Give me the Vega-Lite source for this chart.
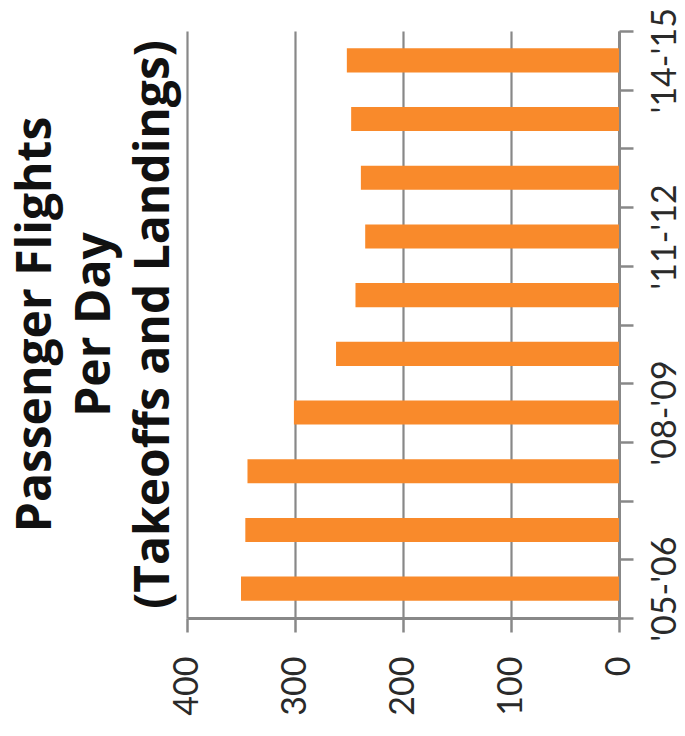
{
  "$schema": "https://vega.github.io/schema/vega-lite/v6.json",
  "width": 432,
  "height": 587,
  "autosize": {"type": "none"},
  "padding": {"left": 187, "top": 31, "right": 66, "bottom": 118},
  "background": "white",
  "view": {"stroke": null},
  "title": {
    "text": ["Passenger Flights", "Per Day", "(Takeoffs and Landings)"],
    "orient": "left",
    "anchor": "middle",
    "frame": "group",
    "font": "Open Sans",
    "fontWeight": "bold",
    "fontSize": 48,
    "lineHeight": 59,
    "color": "#111111",
    "offset": -9
  },
  "data": {
    "values": [
      {"year": "'05-'06", "flights": 350},
      {"year": "'06-'07", "flights": 346},
      {"year": "'07-'08", "flights": 344},
      {"year": "'08-'09", "flights": 301},
      {"year": "'09-'10", "flights": 262},
      {"year": "'10-'11", "flights": 244},
      {"year": "'11-'12", "flights": 235},
      {"year": "'12-'13", "flights": 239},
      {"year": "'13-'14", "flights": 248},
      {"year": "'14-'15", "flights": 252}
    ]
  },
  "mark": {"type": "bar", "color": "#F98A2B", "height": {"band": 0.41}},
  "encoding": {
    "y": {
      "field": "year",
      "type": "nominal",
      "sort": "descending",
      "scale": {"paddingInner": 0, "paddingOuter": 0},
      "axis": {
        "orient": "right",
        "title": null,
        "tickBand": "extent",
        "tickSize": 14,
        "tickWidth": 2.5,
        "tickColor": "#888888",
        "domainColor": "#888888",
        "domainWidth": 3,
        "labelAngle": -90,
        "labelAlign": "center",
        "labelBaseline": "top",
        "labelPadding": 15,
        "labelFont": "Lato",
        "labelFontSize": 34,
        "labelColor": "#2a2a2a",
        "labelExpr": "(substring(datum.label,1,3) == '05' || substring(datum.label,1,3) == '08' || substring(datum.label,1,3) == '11' || substring(datum.label,1,3) == '14') ? datum.label : ''"
      }
    },
    "x": {
      "field": "flights",
      "type": "quantitative",
      "scale": {"domain": [0, 400], "reverse": true, "nice": false},
      "axis": {
        "orient": "bottom",
        "title": null,
        "values": [0, 100, 200, 300, 400],
        "grid": true,
        "gridColor": "#888888",
        "gridWidth": 2.2,
        "tickSize": 14,
        "tickWidth": 2.5,
        "tickColor": "#888888",
        "domainColor": "#888888",
        "domainWidth": 3,
        "labelAngle": -90,
        "labelAlign": "right",
        "labelBaseline": "middle",
        "labelPadding": 24,
        "labelFont": "Lato",
        "labelFontSize": 34,
        "labelColor": "#2a2a2a",
        "labelFlush": false,
        "labelOverlap": false
      }
    }
  }
}
